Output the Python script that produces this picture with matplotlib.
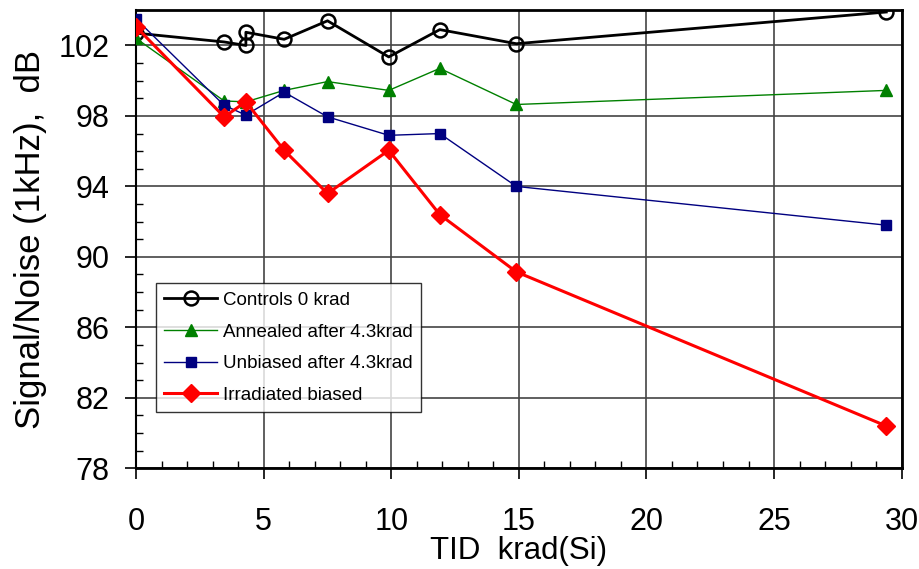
import matplotlib
matplotlib.use("Agg")
import matplotlib.pyplot as plt
from matplotlib.ticker import MultipleLocator

# TID 剂量点 krad(Si)
tid = [0, 3.45, 4.3, 4.3, 5.8, 7.5, 9.9, 11.9, 14.9, 29.4]
tid_dev = [0, 3.45, 4.3, 5.8, 7.5, 9.9, 11.9, 14.9, 29.4]

# 各组 Signal/Noise (1kHz) dB
controls = [102.7, 102.2, 102.0, 102.75, 102.35, 103.4, 101.35, 102.9, 102.1, 103.9]
annealed = [102.4, 98.85, 98.8, 99.45, 99.95, 99.45, 100.7, 98.65, 99.45]
unbiased = [103.5, 98.6, 98.05, 99.35, 97.95, 96.9, 97.0, 94.0, 91.8]
irradiated = [103.05, 97.95, 98.8, 96.05, 93.6, 96.05, 92.4, 89.15, 80.4]

labels = ["Controls 0 krad", "Annealed after 4.3krad", "Unbiased after 4.3krad", "Irradiated biased"]
xticks = [0, 5, 10, 15, 20, 25, 30]
yticks = [78, 82, 86, 90, 94, 98, 102]

plt.rcParams['font.family'] = ['Liberation Sans', 'DejaVu Sans']

fig = plt.figure(figsize=(9.2, 5.69), dpi=100)
ax = fig.add_axes([0.148, 0.177, 0.832, 0.805])

ax.plot(tid, controls, color='black', lw=2, marker='o', ms=10, mfc='none', mew=1.8, label=labels[0], zorder=3)
ax.plot(tid_dev, annealed, color='green', lw=1, marker='^', ms=9, label=labels[1], zorder=4)
ax.plot(tid_dev, unbiased, color='navy', lw=1, marker='s', ms=7, label=labels[2], zorder=5)
ax.plot(tid_dev, irradiated, color='red', lw=2.2, marker='D', ms=9, label=labels[3], zorder=6)

ax.set_xlim(0, 30)
ax.set_ylim(78, 104)
ax.set_xticks(xticks)
ax.set_yticks(yticks)
ax.xaxis.set_minor_locator(MultipleLocator(1))
ax.yaxis.set_minor_locator(MultipleLocator(1))
ax.tick_params(which='major', direction='out', length=8, width=1.2, labelsize=22, color='black')
ax.tick_params(axis='x', which='major', pad=20)
ax.tick_params(axis='y', which='major', pad=11)
ax.tick_params(which='minor', direction='in', length=5, width=1, color='black')
ax.grid(True, which='major', color='#444444', lw=1.2)

for side in ['top', 'right', 'bottom']:
	ax.spines[side].set_linewidth(2)
ax.spines['left'].set_linewidth(1.5)

ax.set_xlabel("TID  krad(Si)", fontsize=22.5)
ax.set_ylabel("Signal/Noise (1kHz),  dB", fontsize=25)
ax.xaxis.set_label_coords(0.5, -0.148)
ax.yaxis.set_label_coords(-0.116, 0.5)

leg = ax.legend(loc='upper left', bbox_to_anchor=(0.026, 0.404), fontsize=13.5, frameon=True,
	fancybox=False, edgecolor='black', borderpad=0.45, labelspacing=0.78,
	handlelength=2.8, handletextpad=0.3, borderaxespad=0)
leg.get_frame().set_linewidth(1)

fig.savefig("out.png", dpi=100)
